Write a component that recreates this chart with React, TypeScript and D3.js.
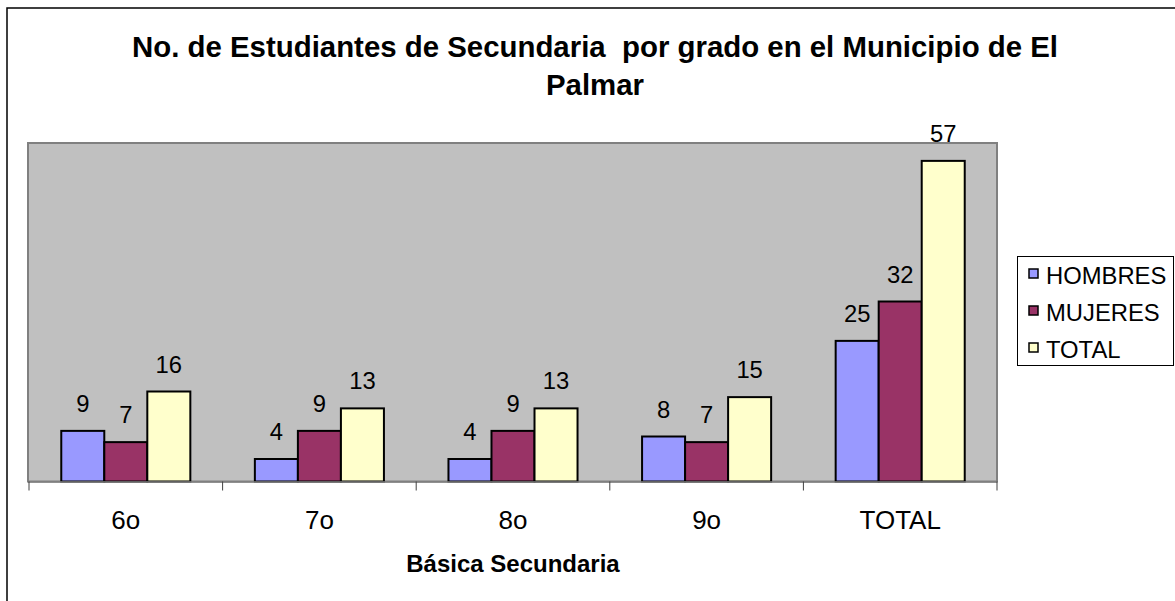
import React from 'react';
import * as d3 from 'd3';

const categories = ['6o', '7o', '8o', '9o', 'TOTAL'];
const seriesNames = ['HOMBRES', 'MUJERES', 'TOTAL'];
const hombres = [9, 4, 4, 8, 25];
const mujeres = [7, 9, 9, 7, 32];
const totales = [16, 13, 13, 15, 57];
const yDomain = [0, 60];

const colors = ['#9999FF', '#993366', '#FFFFCC'];
const font = 'Arial, "Liberation Sans", sans-serif';

const App = () => {
  const width = 1175;
  const height = 601;
  const plot = { left: 29, right: 997, top: 144, bottom: 481.5 };

  const values = [hombres, mujeres, totales];

  const x0 = d3.scaleBand<string>()
    .domain(categories)
    .range([plot.left, plot.right])
    .padding(0);

  // excel style gap (150%) -> outer padding of 0.75 bar on each side
  const x1 = d3.scaleBand<string>()
    .domain(seriesNames)
    .range([0, x0.bandwidth()])
    .paddingInner(0)
    .paddingOuter(0.75);

  const y = d3.scaleLinear().domain(yDomain).range([plot.bottom, plot.top]);

  const ticks = [...categories.map(c => x0(c)!), plot.right];

  return (
    <svg width={width} height={height} style={{ position: 'absolute', left: 0, top: 0, background: '#fff' }}>
      {/* chart frame, cut off on the right and bottom */}
      <rect x={7} y={8} width={1300} height={700} fill="#fff" stroke="#000" strokeWidth={1.5} />

      <text x={595} y={56.5} textAnchor="middle" fontFamily={font} fontWeight="bold" fontSize={29.4} xmlSpace="preserve">
        No. de Estudiantes de Secundaria  por grado en el Municipio de El
      </text>
      <text x={595} y={95} textAnchor="middle" fontFamily={font} fontWeight="bold" fontSize={29.4}>
        Palmar
      </text>

      {/* plot area */}
      <rect x={plot.left - 1} y={plot.top - 1} width={plot.right - plot.left + 1} height={plot.bottom - plot.top + 1}
        fill="#C0C0C0" stroke="#808080" strokeWidth={2} />

      {categories.map((c, i) => (
        <g key={c}>
          {seriesNames.map((s, j) => {
            const v = values[j][i];
            const bx = x0(c)! + x1(s)!;
            return (
              <g key={s}>
                <rect x={bx} y={y(v)} width={x1.bandwidth()} height={plot.bottom - y(v)}
                  fill={colors[j]} stroke="#000" strokeWidth={2} />
                <text x={bx + x1.bandwidth() / 2} y={y(v) - 19} textAnchor="middle"
                  fontFamily={font} fontSize={23.8}>{v}</text>
              </g>
            );
          })}
        </g>
      ))}

      {/* x axis */}
      <line x1={plot.left - 1} x2={plot.right} y1={plot.bottom + 0.5} y2={plot.bottom + 0.5} stroke="#808080" strokeWidth={1.5} />
      {ticks.map((t, i) => (
        <line key={i} x1={t} x2={t} y1={plot.bottom} y2={plot.bottom + 9} stroke="#404040" strokeWidth={1} />
      ))}
      {categories.map(c => (
        <text key={c} x={x0(c)! + x0.bandwidth() / 2} y={528.5} textAnchor="middle" fontFamily={font} fontSize={26}>
          {c}
        </text>
      ))}
      <text x={(plot.left + plot.right) / 2} y={571.5} textAnchor="middle" fontFamily={font} fontWeight="bold" fontSize={24}>
        Básica Secundaria
      </text>

      {/* legend */}
      <rect x={1017.5} y={256.5} width={156} height={109} fill="#fff" stroke="#000" strokeWidth={1} />
      {seriesNames.map((s, j) => (
        <g key={s} transform={`translate(1029, ${269 + j * 37})`}>
          <rect x={0} y={0} width={9} height={9} fill={colors[j]} stroke="#000" strokeWidth={1.5} />
          <text x={17} y={15} fontFamily={font} fontSize={23.8}>{s}</text>
        </g>
      ))}
    </svg>
  );
};

export default App;
